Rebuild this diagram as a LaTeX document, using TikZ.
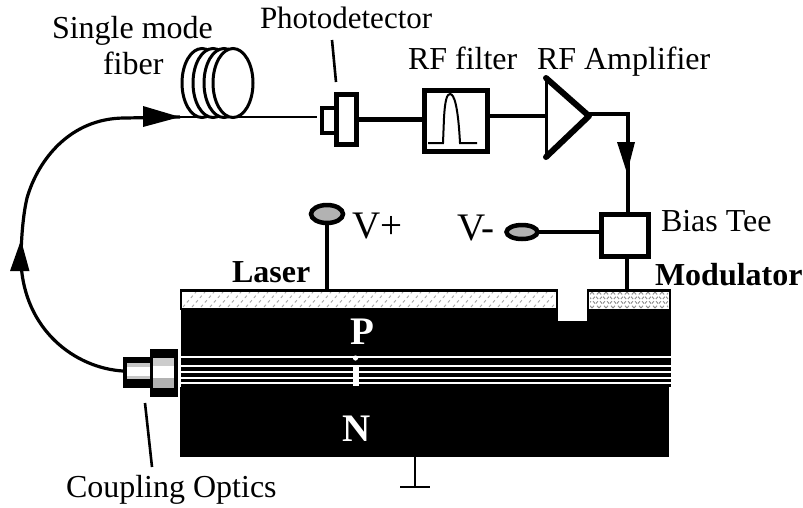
\documentclass[tikz,border=0pt]{standalone}
\usepackage{fontspec}
\setmainfont{Liberation Serif}
\usetikzlibrary{shapes.geometric}
\tikzset{
  lbl/.style={anchor=base west,inner sep=0pt,outer sep=0pt,font=\fontsize{32}{32}\selectfont,text=black},
  lblb/.style={lbl,font=\fontsize{32}{32}\selectfont\bfseries},
  lblv/.style={lbl,font=\fontsize{39}{39}\selectfont},
  inlay/.style={anchor=base west,inner sep=0pt,outer sep=0pt,text=white,font=\fontsize{39}{39}\selectfont\bfseries},
  box/.style={draw=black,fill=white,line width=5pt,inner sep=0pt,outer sep=0pt},
  wire/.style={draw=black,line width=4.5pt},
  thin wire/.style={draw=black,line width=2.6pt},
  fib/.style={draw=black,line width=3.2pt},
  coil/.style={draw=black,fill=white,line width=3pt,ellipse,minimum width=40pt,minimum height=69pt,inner sep=0pt,outer sep=0pt},
  pad/.style={draw=black,fill=gray!60,line width=4.5pt,ellipse,inner sep=0pt,outer sep=0pt},
  tipfill/.style={fill=black,draw=none},
  solid black/.style={fill=black,draw=none},
  stripe/.style={fill=white,draw=none},
  block/.style={draw=none,fill=black,inner sep=0pt,outer sep=0pt},
  hatch/.style={draw=gray!70,line width=0.9pt,dash pattern=on 3pt off 3pt},
}
\begin{document}
\begin{tikzpicture}[x=1pt,y=-1pt]
\useasboundingbox (0,0) rectangle (803,507);
\fill[white] (0,0) rectangle (803,507);

% semiconductor body
\fill[solid black] (181,308) rectangle (671,356);
\fill[solid black] (181,356) rectangle (671,387);
\fill[solid black] (180,387) rectangle (669,457);
\foreach \y/\h in {356/2.2,365/2.2,371/2.2,376.5/2,381.5/2}{
  \fill[stripe] (181,\y) rectangle +(490,\h);
}
\fill[stripe] (352.5,367) rectangle (358.5,386);
\fill[stripe] (355.5,358) circle (2.6pt);
\fill[white] (558,289) rectangle (587,321);

% contacts
\draw[black,line width=2.6pt,fill=white] (181,290.5) rectangle (557,309);
\begin{scope}
  \clip (183,292) rectangle (555,307.5);
  \foreach \x in {183,192,...,560}{
    \draw[hatch] (\x,307) -- (\x+13,292);
  }
\end{scope}
\draw[black,line width=2.6pt,fill=white] (588,290.5) rectangle (670,310);
\begin{scope}
  \clip (590,292) rectangle (668,308.5);
  \foreach \x in {578,585,...,670}{
    \draw[hatch,draw=gray!90] (\x,308) -- (\x+14,292);
    \draw[hatch,draw=gray!90] (\x+14,308) -- (\x,292);
  }
\end{scope}

\node[inlay] (ptext) at (350,344) {P};
\node[inlay] (ntext) at (342,441) {N};

% coupling optics
\node[block,minimum width=28pt,minimum height=31pt] (cpA) at (137,372) {};
\node[block,minimum width=28pt,minimum height=48pt] (cpB) at (163.5,373) {};
\fill[gray!45] (127,363) rectangle (150,367);
\fill[white] (127,367) rectangle (150,376);
\fill[gray!45] (127,376) rectangle (150,379);
\fill[gray!40] (153,358) rectangle (174,366);
\fill[white] (153,366) rectangle (174,378);
\fill[gray!60] (153,378) rectangle (174,388);

% fibre coil
\node[coil] (c1) at (202,83) {};
\node[coil] (c2) at (213,83) {};
\node[coil] (c3) at (224,83) {};
\node[coil] (c4) at (233,83) {};

% photodetector
\node[box,line width=4pt,minimum width=15pt,minimum height=25pt] (pdA) at (329,120.5) {};
\node[box,line width=4.5pt,minimum width=20pt,minimum height=50pt] (pdB) at (346.5,119.5) {};

% fibre
\coordinate (fibtip) at (180,117);
\coordinate (pdin) at (317,117);
\draw[thin wire] (fibtip) -- (pdin);
\draw[fib] (cpA.west) ++(0,-1)
  .. controls (75,368) and (24,330) .. (21,262)
  .. controls (21,240) and (23,215) .. (27,198)
  .. controls (38,160) and (70,118) .. (125,118) -- (fibtip);
\fill[tipfill] (143,106) -- (180,117) -- (143,127) -- cycle;
\fill[tipfill] (21,240) -- (29.5,271) -- (10,271) -- cycle;

% RF filter
\node[box,minimum width=63pt,minimum height=61pt] (filt) at (456,121) {};
\draw[black,line width=2pt] (428,143) -- (443,143) -- (444,118)
  .. controls (445,100) and (447,94) .. (450,94)
  .. controls (454,94) and (458,105) .. (460,143) -- (477,143);

% amplifier
\coordinate (ampT) at (546,78);
\coordinate (ampB) at (546,157);
\coordinate (ampO) at (589,116);
\coordinate (ampI) at (546,116);
\draw[black,line width=3pt,line join=round] (ampT) -- (ampB);
\draw[black,line width=6pt,line join=round,line cap=round] (ampT) -- (ampO) -- (ampB);

% bias tee and pads
\node[box,minimum width=47pt,minimum height=42pt] (tee) at (625,235) {};
\node[pad,minimum width=31pt,minimum height=14pt] (vm) at (522,232) {};
\node[pad,minimum width=32pt,minimum height=18pt] (vp) at (327,214) {};

% connectors
\coordinate (lasercontact) at (327,290);
\coordinate (modcontact) at (627,290);
\coordinate (corner) at (628,114);
\coordinate (teein) at (628,213);
\coordinate (ampout) at (589,114);
\draw[wire] (pdB.east) -- (filt.west |- pdB.east);
\draw[wire] (filt.east |- ampI) -- (ampI);
\draw[wire,line join=miter] (ampout) -- (corner) -- (teein);
\fill[tipfill] (617,142) -- (635,142) -- (627,173) -- cycle;
\draw[wire,line width=3.5pt] (vm.east) -- (tee.west |- vm.east);
\draw[wire,line width=3.5pt] (tee.south -| modcontact) -- (modcontact);
\draw[wire] (vp.south) -- (lasercontact);

% leaders and ground
\coordinate (pdlA) at (332,40);
\coordinate (pdlB) at (336,82);
\draw[thin wire] (pdlA) -- (pdlB);
\coordinate (colA) at (145,403);
\coordinate (colB) at (152,467);
\draw[thin wire] (colA) -- (colB);
\coordinate (gndA) at (415,457);
\coordinate (gndB) at (415,487);
\coordinate (gndL) at (400,487);
\coordinate (gndR) at (430,487);
\draw[thin wire] (gndA) -- (gndB);
\draw[thin wire] (gndL) -- (gndR);

% labels
\node[lbl] (l1) at (52,38) {Single mode};
\node[lbl] (l2) at (103,74) {fiber};
\node[lbl,font=\fontsize{31}{31}\selectfont] (l3) at (260,28) {Photodetector};
\node[lbl] (l4) at (408,69) {RF filter};
\node[lbl] (l5) at (537,69) {RF Amplifier};
\node[lbl] (l6) at (661,231) {Bias Tee};
\node[lblb] (l7) at (655,285) {Modulator};
\node[lblb] (l8) at (232,282) {Laser};
\node[lblv] (l9) at (352,238) {V+};
\node[lblv] (l10) at (457,240) {V-};
\node[lbl] (l11) at (66,497) {Coupling Optics};
\end{tikzpicture}
\end{document}
